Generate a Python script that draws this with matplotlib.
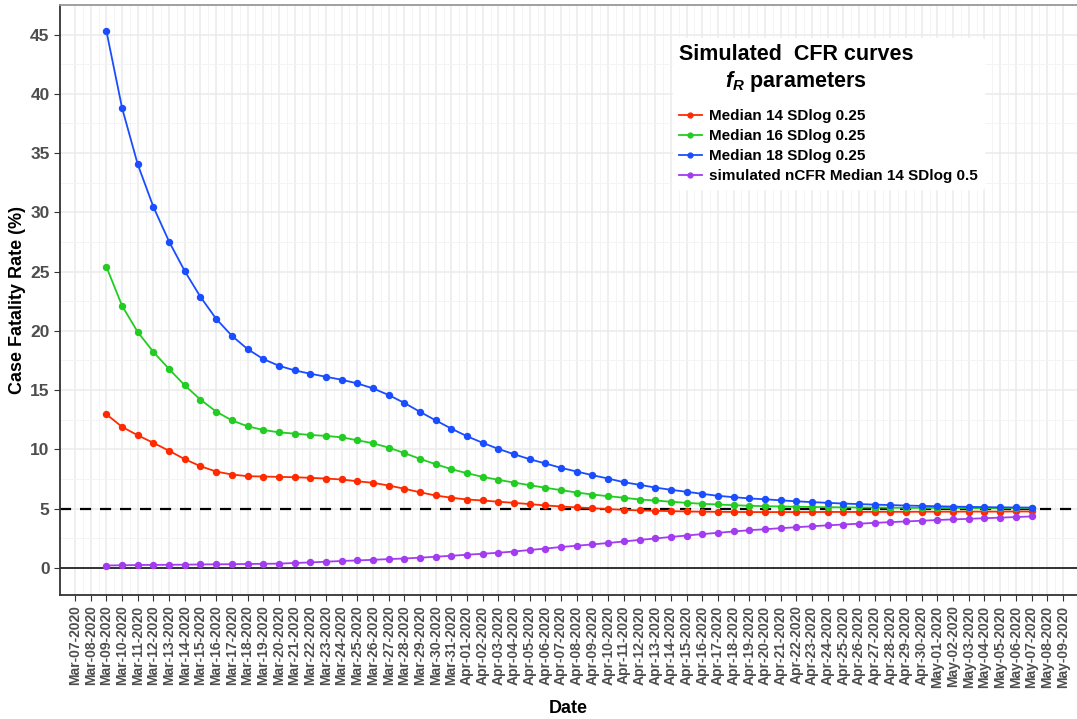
"""Simulated CFR curves for different f_R parameters."""
import matplotlib
matplotlib.use("Agg")
import matplotlib.pyplot as plt
import matplotlib.dates as mdates
import numpy as np
import pandas as pd

plt.rcParams["font.family"] = ["Liberation Sans", "DejaVu Sans"]
plt.rcParams["mathtext.fontset"] = "custom"
plt.rcParams["mathtext.bfit"] = "Liberation Sans:bold:italic"
plt.rcParams["mathtext.it"] = "Liberation Sans:bold:italic"

# data: one point per day from Mar-09-2020 to May-07-2020
start_date = "2020-03-09"
n_days = 60

median14 = [12.95, 11.89, 11.18, 10.54, 9.87, 9.16, 8.57, 8.12, 7.87, 7.73, 7.70, 7.67,
            7.64, 7.59, 7.53, 7.45, 7.30, 7.17, 6.94, 6.67, 6.37, 6.10, 5.91,
            5.76, 5.68, 5.57, 5.48, 5.37, 5.26, 5.17, 5.09, 5.03, 4.95, 4.89, 4.84,
            4.81, 4.78, 4.75, 4.73, 4.72, 4.71, 4.70,
            4.70, 4.70, 4.70, 4.70, 4.71, 4.71, 4.71, 4.72, 4.72, 4.72, 4.73,
            4.73, 4.73, 4.74, 4.74, 4.74, 4.75, 4.75]
median16 = [25.4, 22.11, 19.89, 18.21, 16.77, 15.39, 14.19, 13.18, 12.44, 11.94, 11.63, 11.43,
            11.32, 11.21, 11.13, 11.01, 10.76, 10.51, 10.14, 9.68, 9.19, 8.74, 8.32,
            7.98, 7.67, 7.42, 7.19, 6.97, 6.75, 6.55, 6.35, 6.18, 6.04, 5.91, 5.76,
            5.68, 5.57, 5.48, 5.40, 5.34, 5.28, 5.23,
            5.20, 5.17, 5.15, 5.13, 5.11, 5.10, 5.09, 5.08, 5.07, 5.06, 5.05,
            5.05, 5.04, 5.04, 5.03, 5.03, 5.03, 5.02]
median18 = [45.3, 38.8, 34.04, 30.45, 27.52, 25.03, 22.86, 21.01, 19.58, 18.46, 17.62, 17.05,
            16.66, 16.38, 16.12, 15.87, 15.56, 15.14, 14.58, 13.91, 13.16, 12.44, 11.74,
            11.10, 10.54, 10.03, 9.58, 9.16, 8.80, 8.43, 8.12, 7.81, 7.53, 7.22, 7.00,
            6.77, 6.58, 6.41, 6.24, 6.07, 5.96, 5.85,
            5.78, 5.69, 5.61, 5.54, 5.48, 5.42, 5.37, 5.33, 5.29, 5.25, 5.22,
            5.19, 5.16, 5.14, 5.12, 5.10, 5.09, 5.08]
ncfr14 = [0.19, 0.21, 0.23, 0.24, 0.25, 0.26, 0.28, 0.29, 0.30, 0.32, 0.33, 0.35,
          0.40, 0.45, 0.51, 0.57, 0.62, 0.67, 0.73, 0.78, 0.85, 0.93, 1.01,
          1.10, 1.18, 1.27, 1.37, 1.50, 1.62, 1.75, 1.86, 1.97, 2.09, 2.22, 2.35,
          2.47, 2.60, 2.72, 2.84, 2.95, 3.06, 3.17,
          3.25, 3.34, 3.42, 3.50, 3.58, 3.65, 3.72, 3.79, 3.85, 3.91, 3.97,
          4.03, 4.08, 4.13, 4.18, 4.23, 4.28, 4.33]

series_labels = ["Median 14 SDlog 0.25", "Median 16 SDlog 0.25",
                 "Median 18 SDlog 0.25", "simulated nCFR Median 14 SDlog 0.5"]
series_colors = ["#ff2a00", "#22cc22", "#1a4dff", "#a33cf0"]

tick_start = "2020-03-07"
tick_end = "2020-05-09"

dates = pd.date_range(start_date, periods=n_days, freq="D")
tick_dates = pd.date_range(tick_start, tick_end, freq="D")

fig = plt.figure(figsize=(10.77, 7.19), dpi=100)
ax = fig.add_axes([60 / 1077, 1 - 595 / 719, 1 - 60 / 1077, 590 / 719])

# grid like ggplot theme_bw
minor_x = tick_dates[:-1] + pd.Timedelta(hours=12)
ax.set_xticks(tick_dates)
ax.set_xticks(minor_x, minor=True)
ax.set_yticks(np.arange(0, 50, 5))
ax.set_yticks(np.arange(2.5, 50, 5), minor=True)
ax.grid(True, which="major", color="#ebebeb", linewidth=1.1, zorder=0)
ax.grid(True, which="minor", color="#f3f3f3", linewidth=0.6, zorder=0)
ax.set_axisbelow(True)

ax.axhline(0, color="black", linewidth=1.1, zorder=1)
ax.axhline(5, color="black", linewidth=1.6, linestyle=(0, (5, 4)), zorder=1)

for vals, label, color in zip([median14, median16, median18, ncfr14], series_labels, series_colors):
    ax.plot(dates, vals, "-o", color=color, linewidth=1.3, markersize=4.3, label=label, zorder=3)

ax.set_xlim(pd.Timestamp(tick_start) - pd.Timedelta(days=0.96),
            pd.Timestamp(tick_start) + pd.Timedelta(days=63.9))
ax.set_ylim(-2.3, 47.5)

ax.xaxis.set_major_formatter(mdates.DateFormatter("%b-%d-%Y"))
ax.tick_params(axis="x", which="major", labelrotation=90, labelsize=10, labelcolor="#4d4d4d",
               length=4, width=0.8, color="#333333")
ax.tick_params(axis="y", which="major", labelsize=12.5, labelcolor="#4d4d4d",
               length=4, width=0.8, color="#333333")
ax.tick_params(which="minor", length=0)
for lab in ax.get_xticklabels() + ax.get_yticklabels():
    lab.set_fontweight("bold")

for side in ["left", "bottom"]:
    ax.spines[side].set_color("#333333")
    ax.spines[side].set_linewidth(1.3)
ax.spines["top"].set_color("#999999")
ax.spines["top"].set_linewidth(1.3)
ax.spines["right"].set_visible(False)

ax.set_xlabel("Date", fontsize=13, fontweight="bold", labelpad=9)
ax.set_ylabel("Case Fatality Rate (%)", fontsize=13, fontweight="bold", labelpad=3)

leg = ax.legend(title="Simulated  CFR curves\n$\\mathit{f_R}$ parameters",
                loc="upper left", bbox_to_anchor=(0.595, 0.957), frameon=True,
                fontsize=11, handlelength=1.5, handletextpad=0.45, labelspacing=0.4,
                borderpad=0.4, alignment="left")
leg._legend_box.sep = 11  # extra gap between title and entries
leg.get_frame().set_facecolor("white")
leg.get_frame().set_edgecolor("white")
leg.get_frame().set_alpha(1)
leg.get_title().set_fontsize(15.5)
leg.get_title().set_fontweight("bold")
leg.get_title().set_multialignment("center")
for t in leg.get_texts():
    t.set_fontweight("bold")
for h in leg.legend_handles:
    h.set_markersize(3.5)

fig.savefig("out.png", dpi=100)
